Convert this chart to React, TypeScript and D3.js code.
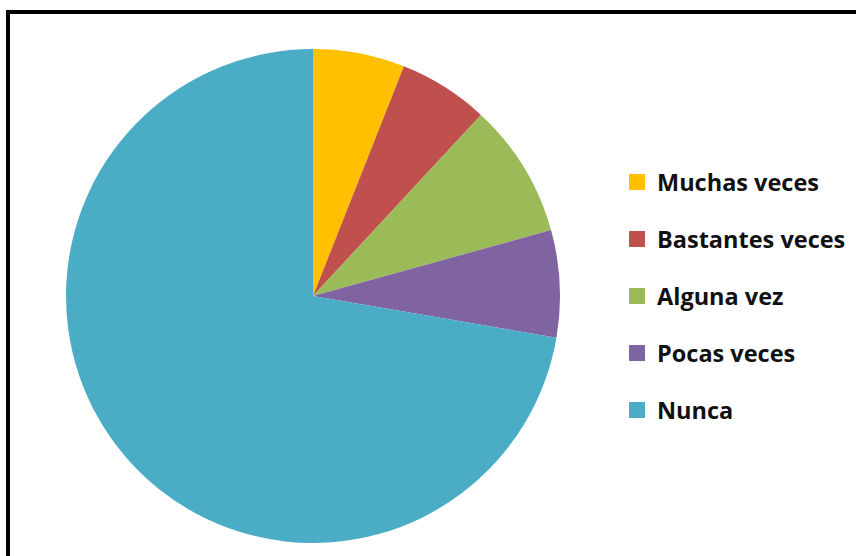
import React from "react";
import * as d3 from "d3";

const categories = ["Muchas veces", "Bastantes veces", "Alguna vez", "Pocas veces", "Nunca"];
const values = [6.0, 5.9, 8.8, 7.0, 72.3];
const colors = ["#FFC000", "#C0504D", "#9BBB59", "#8064A2", "#4BACC6"];

const W = 856;
const H = 556;
const cx = 313;
const cy = 296;
const R = 247;

export default function App() {
  const pie = d3.pie<number>().sort(null).value((d) => d)(values);
  const arc = d3.arc<d3.PieArcDatum<number>>().innerRadius(0).outerRadius(R);
  const legendY = d3.scalePoint<string>().domain(categories).range([182, 410]);
  return (
    <svg
      width={W}
      height={H}
      style={{ position: "absolute", left: 0, top: 0, background: "#fff" }}
    >
      <rect x={0} y={0} width={W} height={H} fill="#fff" />
      <path d={`M8,${H} L8,12 L${W},12`} fill="none" stroke="#000" strokeWidth={4} />
      <g transform={`translate(${cx},${cy})`}>
        {pie.map((p, i) => (
          <path key={i} d={arc(p) || ""} fill={colors[i]} />
        ))}
      </g>
      <g>
        {categories.map((c, i) => {
          const y = legendY(c) as number;
          return (
            <g key={c}>
              <rect x={629} y={y - 8} width={16} height={16} fill={colors[i]} />
              <text
                x={657}
                y={y + 9}
                fontFamily="'Open Sans', sans-serif"
                fontWeight="bold"
                fontSize={23.5}
                fill="#111"
              >
                {c}
              </text>
            </g>
          );
        })}
      </g>
    </svg>
  );
}
